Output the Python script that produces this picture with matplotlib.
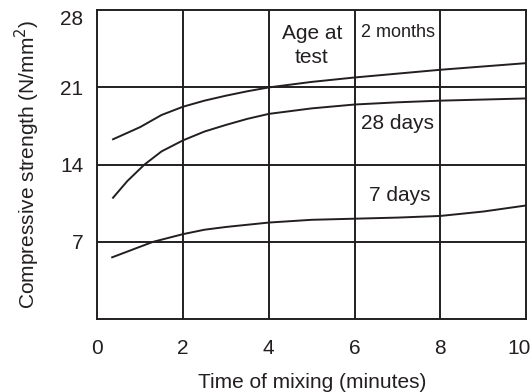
import matplotlib.pyplot as plt
import matplotlib.transforms as mtransforms

plt.rcParams['font.family'] = ['Liberation Sans', 'DejaVu Sans']

# mixing time (minutes) and strength (N/mm^2)
t_2m = [0.37, 1.0, 1.5, 2.0, 2.5, 3.0, 3.5, 4.0, 5.0, 6.0, 7.0, 8.0, 9.0, 10.0]
s_2m = [16.3, 17.4, 18.5, 19.25, 19.8, 20.25, 20.65, 21.0, 21.5, 21.9, 22.25, 22.6, 22.9, 23.2]

t_28d = [0.37, 0.7, 1.1, 1.5, 2.0, 2.5, 3.0, 3.5, 4.0, 5.0, 6.0, 7.0, 8.0, 9.0, 10.0]
s_28d = [11.0, 12.5, 14.0, 15.2, 16.2, 17.0, 17.6, 18.15, 18.6, 19.1, 19.45, 19.65, 19.8, 19.9, 20.0]

t_7d = [0.35, 1.3, 2.0, 2.5, 3.0, 4.0, 5.0, 6.0, 7.0, 8.0, 9.0, 10.0]
s_7d = [5.6, 7.0, 7.7, 8.1, 8.35, 8.75, 9.0, 9.1, 9.2, 9.35, 9.75, 10.3]

xticks = [0, 2, 4, 6, 8, 10]
yticks = [7, 14, 21, 28]

fig, ax = plt.subplots(figsize=(5.31, 3.92), dpi=100)
fig.subplots_adjust(left=0.183, right=0.991, top=0.974, bottom=0.186)

ink = '#231f20'
for x in xticks[1:-1]:
    ax.axvline(x, color=ink, lw=1.4, zorder=1)
for y in yticks[:-1]:
    ax.axhline(y, color=ink, lw=1.4, zorder=1)

ax.plot(t_2m, s_2m, color=ink, lw=1.4, zorder=2)
ax.plot(t_28d, s_28d, color=ink, lw=1.4, zorder=2)
ax.plot(t_7d, s_7d, color=ink, lw=1.4, zorder=2)

ax.text(5.0, 24.8, 'Age at\ntest', ha='center', va='center', fontsize=15,
        color=ink, linespacing=1.3)
ax.text(7.0, 26.0, '2 months', ha='center', va='center', fontsize=13, color=ink)
ax.text(7.0, 17.7, '28 days', ha='center', va='center', fontsize=15, color=ink)
ax.text(7.05, 11.2, '7 days', ha='center', va='center', fontsize=15, color=ink)

ax.set_xlim(0, 10)
ax.set_ylim(0, 28)
ax.set_xticks(xticks)
ax.set_yticks(yticks)
ax.tick_params(length=0, labelsize=15, colors=ink)
ax.tick_params(axis='x', pad=14)
ax.tick_params(axis='y', pad=10)
for sp in ax.spines.values():
    sp.set_linewidth(1.4)
    sp.set_color(ink)

# end labels nudged inside the figure, as in the original
last_x = ax.get_xticklabels()[-1]
last_x.set_transform(last_x.get_transform() + mtransforms.ScaledTranslation(-0.07, 0, fig.dpi_scale_trans))
top_y = ax.get_yticklabels()[-1]
top_y.set_transform(top_y.get_transform() + mtransforms.ScaledTranslation(0, -0.07, fig.dpi_scale_trans))

ax.set_xlabel('Time of mixing (minutes)', fontsize=15, color=ink, labelpad=11)
ax.set_ylabel('Compressive strength (N/mm$^2$)', fontsize=15, color=ink, labelpad=13)

fig.savefig('out.png', dpi=100)
